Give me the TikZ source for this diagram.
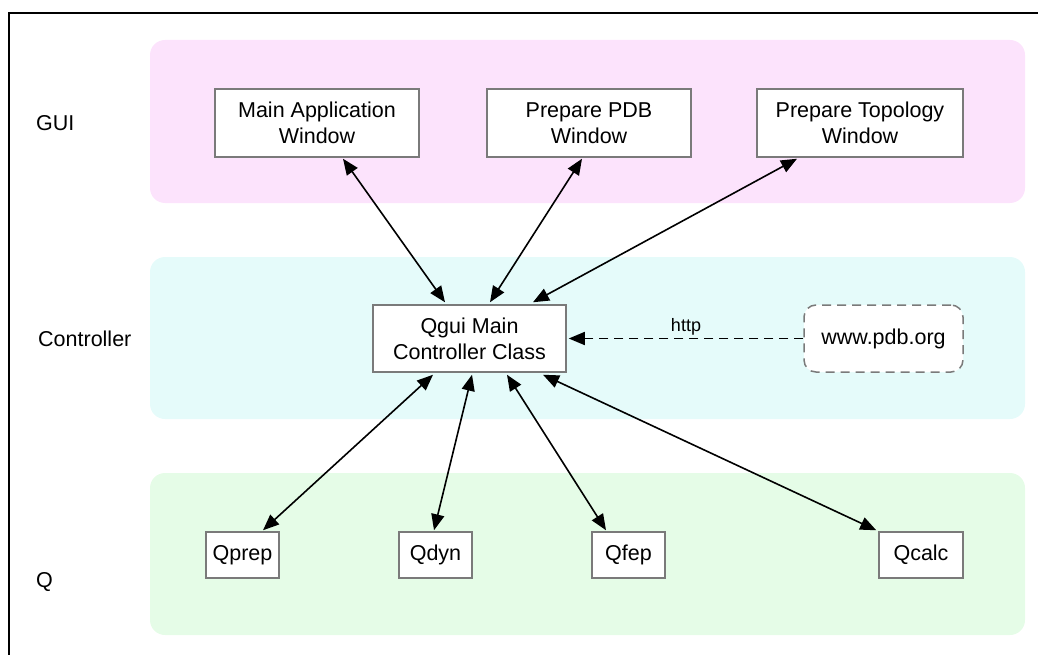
\documentclass[tikz,border=0pt]{standalone}
\usepackage{fontspec}
\setmainfont{Liberation Sans}
\usetikzlibrary{arrows.meta}

\definecolor{guiband}{HTML}{FCE3FC}
\definecolor{ctlband}{HTML}{E5FBFA}
\definecolor{qband}{HTML}{E5FCE7}
\definecolor{boxline}{HTML}{7A7A7A}

\tikzset{
  band/.style={fill=#1, draw=none, rounded corners=15pt},
  layerlabel/.style={anchor=west, inner sep=0pt, font=\fontsize{21.5}{26}\selectfont},
  compbox/.style={draw=boxline, line width=1.5pt, fill=white, align=center,
    inner sep=0pt, font=\fontsize{21.5}{26}\selectfont},
  extbox/.style={compbox, dashed, dash pattern=on 9pt off 6pt, rounded corners=12pt},
  link/.style={line width=1.6pt, {Triangle[length=16pt,width=13pt]}-{Triangle[length=16pt,width=13pt]}},
  weblink/.style={line width=1.6pt, dash pattern=on 9pt off 6pt, -{Triangle[length=16pt,width=13pt]}},
  edgelabel/.style={font=\fontsize{18}{20}\selectfont, inner sep=0pt}
}

\begin{document}
\begin{tikzpicture}[x=1pt, y=-1pt]
  \useasboundingbox (0,0) rectangle (1038,655);

  % outer frame (runs off the right and bottom edges)
  \draw[line width=1.3pt] (1045,13) -- (9,13) -- (9,665);

  % layer bands
  \fill[band=guiband] (150,40) rectangle (1025,203);
  \fill[band=ctlband] (150,257) rectangle (1025,419);
  \fill[band=qband]   (150,473) rectangle (1025,635);

  % layer labels
  \node[layerlabel] (lgui) at (36,123) {GUI};
  \node[layerlabel] (lctl) at (38,339) {Controller};
  \node[layerlabel] (lq)   at (36,582) {Q};

  % GUI windows
  \node[compbox, minimum width=204pt, minimum height=68pt] (main) at (317,123)
    {Main Application\\Window};
  \node[compbox, minimum width=204pt, minimum height=68pt] (pdb) at (589,123)
    {Prepare PDB\\Window};
  \node[compbox, minimum width=206pt, minimum height=68pt] (topo) at (860,123)
    {Prepare Topology\\Window};

  % controller and external service
  \node[compbox, minimum width=193pt, minimum height=67pt] (ctrl) at (469.5,338.5)
    {Qgui Main\\Controller Class};
  \node[extbox, minimum width=159pt, minimum height=67pt] (www) at (883.5,338.5)
    {www.pdb.org};

  % Q programs
  \node[compbox, minimum width=73pt, minimum height=46pt] (qprep) at (242.5,555) {Qprep};
  \node[compbox, minimum width=73pt, minimum height=46pt] (qdyn)  at (435.5,555) {Qdyn};
  \node[compbox, minimum width=73pt, minimum height=46pt] (qfep)  at (628.5,555) {Qfep};
  \node[compbox, minimum width=84pt, minimum height=46pt] (qcalc) at (921,555) {Qcalc};

  % GUI <-> controller
  \draw[link] ([xshift=26pt,yshift=-1pt]main.south) -- ([xshift=-24.5pt,yshift=2pt]ctrl.north);
  \draw[link] ([xshift=-7pt,yshift=-1pt]pdb.south)  -- ([xshift=20.5pt,yshift=2pt]ctrl.north);
  \draw[link] ([xshift=-63pt,yshift=-1pt]topo.south) -- ([xshift=63.5pt,yshift=2pt]ctrl.north);

  % controller <-> Q programs
  \draw[link] ([xshift=-36.5pt,yshift=-2pt]ctrl.south) -- ([xshift=20.5pt,yshift=1pt]qprep.north);
  \draw[link] ([xshift=2.5pt,yshift=-2pt]ctrl.south)   -- ([xshift=-1.5pt,yshift=1pt]qdyn.north);
  \draw[link] ([xshift=37.5pt,yshift=-2pt]ctrl.south)  -- ([xshift=-22.5pt,yshift=1pt]qfep.north);
  \draw[link] ([xshift=73.5pt,yshift=-2pt]ctrl.south)  -- ([xshift=-2pt,yshift=1pt]qcalc.north west);

  % web access
  \draw[weblink] (www.west) -- ([xshift=2pt]ctrl.east);
  \node[edgelabel] (lhttp) at (686,327) {http};
\end{tikzpicture}
\end{document}
